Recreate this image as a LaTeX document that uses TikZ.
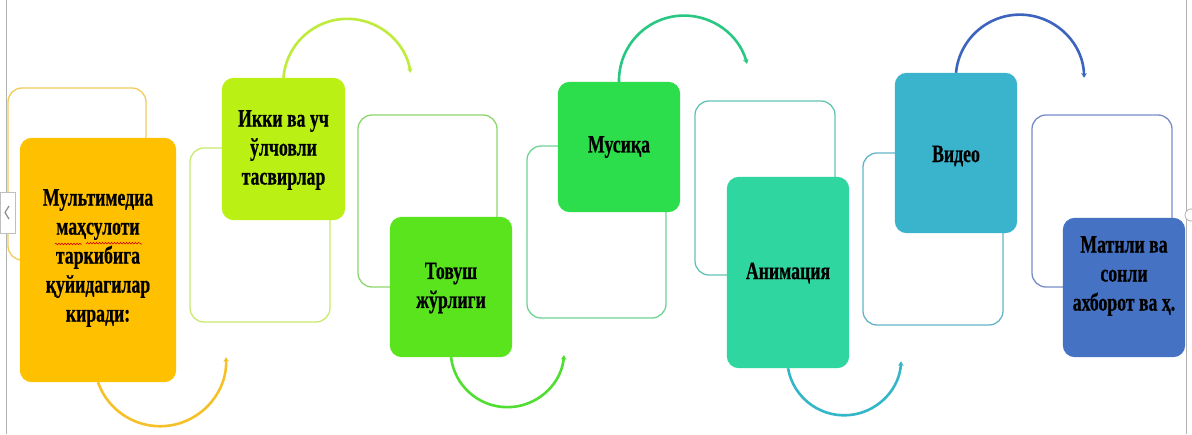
\documentclass[tikz,border=0pt]{standalone}
\usepackage{fontspec}
\setmainfont{Liberation Serif}
\newfontfamily\boxfont[FakeStretch=0.71, BoldFeatures={FakeBold=0.6}]{Liberation Serif}
\usetikzlibrary{arrows.meta,decorations.pathmorphing}

% block fills
\definecolor{f1}{RGB}{255,192,0}
\definecolor{f2}{RGB}{186,240,20}
\definecolor{f3}{RGB}{90,228,30}
\definecolor{f4}{RGB}{44,222,76}
\definecolor{f5}{RGB}{48,214,160}
\definecolor{f6}{RGB}{58,180,204}
\definecolor{f7}{RGB}{70,114,196}
% frame outlines
\definecolor{o1}{RGB}{240,204,90}
\definecolor{o2}{RGB}{200,234,110}
\definecolor{o3}{RGB}{140,214,110}
\definecolor{o4}{RGB}{110,212,150}
\definecolor{o5}{RGB}{100,196,180}
\definecolor{o6}{RGB}{100,180,200}
\definecolor{o7}{RGB}{120,140,200}
% connector arcs
\definecolor{a1}{RGB}{245,192,40}
\definecolor{a2}{RGB}{190,235,60}
\definecolor{a3}{RGB}{80,222,50}
\definecolor{a4}{RGB}{40,200,130}
\definecolor{a5}{RGB}{50,182,200}
\definecolor{a6}{RGB}{60,100,190}

\tikzset{
  fillbox/.style={rounded corners=12pt, inner sep=0pt, draw=none},
  framebox/.style={draw, line width=1.3pt, rounded corners=14pt, inner sep=0pt},
  arcline/.style={line width=2.6pt, -{Stealth[length=4.5pt,width=5.5pt]}},
  txt/.style={font=\boxfont\bfseries\fontsize{25}{29}\selectfont, align=center, text=black, inner sep=0pt},
  margin/.style={draw=black!30, line width=1pt}
}

\begin{document}
\begin{tikzpicture}[x=1pt,y=-1pt]
\useasboundingbox (0,0) rectangle (1192,434);
\fill[white] (0,0) rectangle (1192,434);

% page margins
\draw[margin] (6.5,0) -- (6.5,434);
\draw[margin] (1186,0) -- (1186,434);

% open frames behind the blocks
\node[framebox, draw=o1, minimum width=138pt, minimum height=172pt] (r1) at (77,174) {};
\node[framebox, draw=o2, minimum width=140pt, minimum height=174pt] (r2) at (260,235) {};
\node[framebox, draw=o3, minimum width=139pt, minimum height=172pt] (r3) at (427.5,201) {};
\node[framebox, draw=o4, minimum width=139pt, minimum height=172pt] (r4) at (596.5,232) {};
\node[framebox, draw=o5, minimum width=140pt, minimum height=174pt] (r5) at (765,188) {};
\node[framebox, draw=o6, minimum width=140pt, minimum height=172pt] (r6) at (933,239) {};
\node[framebox, draw=o7, minimum width=140pt, minimum height=172pt] (r7) at (1102,201) {};

% coloured blocks (shapes only, labels follow)
\coordinate (c1) at (98,260);
\coordinate (c2) at (283.5,149);
\coordinate (c3) at (451,287);
\coordinate (c4) at (619,147);
\coordinate (c5) at (788,272.5);
\coordinate (c6) at (956,153);
\coordinate (c7) at (1124,287.5);

\path (c1) node[fillbox, minimum width=156pt, minimum height=244pt] (b1) {};
\path (c2) node[fillbox, minimum width=123pt, minimum height=142pt] (b2) {};
\path (c3) node[fillbox, minimum width=122pt, minimum height=140pt] (b3) {};
\path (c4) node[fillbox, minimum width=122pt, minimum height=130pt] (b4) {};
\path (c5) node[fillbox, minimum width=122pt, minimum height=191pt] (b5) {};
\path (c6) node[fillbox, minimum width=122pt, minimum height=160pt] (b6) {};
\path (c7) node[fillbox, minimum width=122pt, minimum height=139pt] (b7) {};

% curved arrows from block to block
\draw[arcline, a1] (b1.south) arc[start angle=160.6, end angle=-2.7, radius=65.9];
\draw[arcline, a2] (b2.north) arc[start angle=184.5, end angle=351, radius=64];
\draw[arcline, a3] (b3.south) arc[start angle=173.1, end angle=4.8, radius=56.8];
\draw[arcline, a4] (b4.north) arc[start angle=179, end angle=345, radius=65.1];
\draw[arcline, a5] (b5.south) arc[start angle=170, end angle=3, radius=57];
\draw[arcline, a6] (b6.north) arc[start angle=185.4, end angle=359, radius=64.2];

% fills on top
\fill[f1, rounded corners=12pt] (b1.south west) rectangle (b1.north east);
\fill[f2, rounded corners=12pt] (b2.south west) rectangle (b2.north east);
\fill[f3, rounded corners=12pt] (b3.south west) rectangle (b3.north east);
\fill[f4, rounded corners=12pt] (b4.south west) rectangle (b4.north east);
\fill[f5, rounded corners=12pt] (b5.south west) rectangle (b5.north east);
\fill[f6, rounded corners=12pt] (b6.south west) rectangle (b6.north east);
\fill[f7, rounded corners=12pt] (b7.south west) rectangle (b7.north east);

% labels
\node[txt] (t1) at (98,258) {Мультимедиа\\маҳсулоти\\таркибига\\қуйидагилар\\киради:};
\node[txt] (t2) at (283.5,150) {Икки ва уч\\ўлчовли\\тасвирлар};
\node[txt] (t3) at (451,288) {Товуш\\жўрлиги};
\node[txt] (t4) at (619,147) {Мусиқа};
\node[txt] (t5) at (788,273) {Анимация};
\node[txt] (t6) at (956,156) {Видео};
\node[txt] (t7) at (1124,276) {Матнли ва\\сонли\\ахборот ва ҳ.};

% spelling marks under the second line
\draw[red!85!black, line width=0.6pt, decorate, decoration={snake, amplitude=0.8pt, segment length=3pt}]
  (55,244) -- (80,244) (86,244) -- (142,244);

% side tab and handle
\draw[draw=black!25, fill=white] (0,192) rectangle (15,233);
\draw[black!45, line width=1.2pt] (9,206) -- (5,212.5) -- (9,219);
\draw[draw=black!30, fill=white, line width=0.8pt] (1191,215) circle[radius=6];
\end{tikzpicture}
\end{document}
